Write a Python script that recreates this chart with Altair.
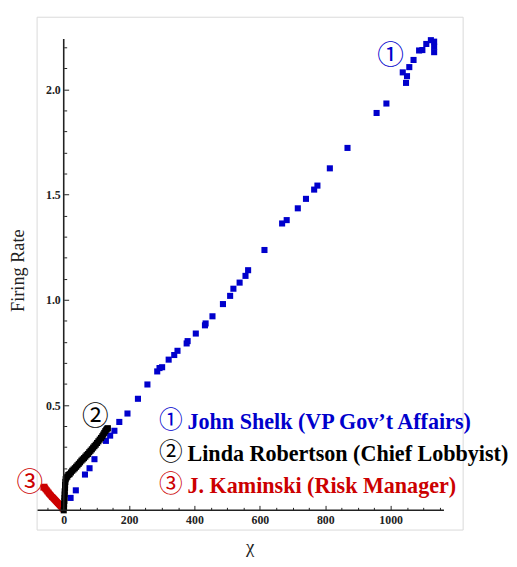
import altair as alt
import pandas as pd

# ---------------- data ----------------
blue_x = [21, 37, 65, 79, 94, 129, 142, 155, 170, 195, 227, 256, 286, 293, 301, 321,
          338, 348, 376, 379, 404, 432, 434, 455, 487, 509, 519, 538, 556, 564, 614,
          668, 682, 716, 741, 766, 776, 814, 868, 957, 987, 1037, 1050, 1047, 1057,
          1070, 1087, 1097, 1109, 1123, 1133, 1133, 1133]
blue_y = [0.059, 0.095, 0.170, 0.200, 0.243, 0.330, 0.355, 0.378, 0.420, 0.460, 0.530,
          0.598, 0.660, 0.676, 0.680, 0.716, 0.738, 0.758, 0.793, 0.804, 0.840, 0.879,
          0.888, 0.922, 0.980, 1.019, 1.053, 1.082, 1.114, 1.141, 1.237, 1.363, 1.379,
          1.435, 1.480, 1.524, 1.543, 1.625, 1.722, 1.888, 1.933, 2.081, 2.063, 2.031,
          2.106, 2.140, 2.185, 2.187, 2.216, 2.234, 2.227, 2.203, 2.177]

black_x = [0, 1, 1, 2, 2, 3, 3, 4, 4, 5, 6, 8, 11, 14, 18, 22, 26, 30, 34, 38, 42, 46,
           50, 54, 58, 62, 66, 70, 74, 78, 82, 86, 90, 94, 98, 102, 106, 110, 114, 118,
           121, 124, 127, 130, 133, 135]
black_y = [0.000, 0.015, 0.030, 0.045, 0.060, 0.075, 0.090, 0.105, 0.120, 0.135, 0.148,
           0.155, 0.160, 0.168, 0.172, 0.180, 0.188, 0.194, 0.200, 0.207, 0.214, 0.221,
           0.228, 0.236, 0.242, 0.248, 0.255, 0.262, 0.268, 0.276, 0.283, 0.290, 0.298,
           0.305, 0.312, 0.320, 0.328, 0.336, 0.344, 0.352, 0.360, 0.368, 0.376, 0.383,
           0.388, 0.390]

red_x = [-62, -59, -57, -55, -52, -50, -47, -45, -42, -39, -36, -33, -30, -27, -24,
         -21, -18, -15, -12, -9, -6, -3]
red_y = [0.108, 0.112, 0.105, 0.100, 0.095, 0.090, 0.085, 0.080, 0.075, 0.070, 0.064,
         0.060, 0.055, 0.050, 0.045, 0.040, 0.035, 0.030, 0.025, 0.020, 0.014, 0.008]

x_tick_values = [-50, 0, 50, 100, 150, 200, 250, 300, 350, 400, 450, 500, 550, 600,
                 650, 700, 750, 800, 850, 900, 950, 1000, 1050, 1100, 1150]
x_label_values = [0, 200, 400, 600, 800, 1000]
y_tick_values = [0.1, 0.2, 0.3, 0.4, 0.5, 0.6, 0.7, 0.8, 0.9, 1.0, 1.1, 1.2, 1.3, 1.4,
                 1.5, 1.6, 1.7, 1.8, 1.9, 2.0, 2.1, 2.2]
y_label_values = [0.5, 1.0, 1.5, 2.0]

axis_x_extent = [-80, 1163]
axis_y_extent = [0, 2.24]

circled = ["①", "②", "③"]
legend_names = ["John Shelk (VP Gov’t Affairs)",
                "Linda Robertson (Chief Lobbyist)",
                "J. Kaminski (Risk Manager)"]
series_colors = ["#0000CC", "#000000", "#CC0000"]

# ---------------- annotation placement (data coordinates) ----------------
legend_pos_x = [378.6, 378.6, 378.6]
legend_pos_y = [0.387, 0.234, 0.084]
legend_mark_x = [327.3, 327.3, 327.3]
legend_mark_y = [0.423, 0.270, 0.120]
tag_x = [1000, 97, -104]
tag_y = [2.160, 0.442, 0.130]

# ---------------- scales ----------------
xs = alt.Scale(domain=[-82.96, 1220.2], nice=False, zero=False)
ys = alt.Scale(domain=[-0.0914, 2.3454], nice=False, zero=False)

SERIF = "Liberation Serif"
INK = "#222222"

x_label_axis = alt.Axis(
    orient="bottom", offset=-19.5, values=x_label_values, format="d", domain=False,
    ticks=False, tickSize=0, grid=False, labelFont=SERIF, labelFontSize=12,
    labelFontWeight="bold", labelColor=INK, labelPadding=4, labelOverlap=False,
    labelFlush=False, title="χ", titleFont=SERIF, titleFontSize=19,
    titleFontWeight="normal", titleColor=INK, titleX=216, titleY=43,
    titleAlign="center", titleBaseline="alphabetic", titleAngle=0)
y_label_axis = alt.Axis(
    orient="left", offset=-27.5, values=y_label_values, format=".1f", domain=False,
    ticks=False, tickSize=0, grid=False, labelFont=SERIF, labelFontSize=12,
    labelFontWeight="bold", labelColor=INK, labelPadding=3.5, labelOverlap=False,
    labelFlush=False, title="Firing Rate", titleFont=SERIF, titleFontSize=18.5,
    titleFontWeight="normal", titleColor=INK, titleX=-47, titleY=257,
    titleAlign="center", titleBaseline="middle", titleAngle=270)
x_tick_axis = alt.Axis(
    orient="top", offset=-500.5, values=x_tick_values, domain=False, labels=False,
    grid=False, tickColor=INK, tickWidth=1,
    tickSize={"condition": {"test": "indexof([0,200,400,600,800,1000], datum.value) >= 0",
                            "value": 5}, "value": 3},
    title=None)
y_tick_axis = alt.Axis(
    orient="right", offset=-404.5, values=y_tick_values, domain=False, labels=False,
    grid=False, tickColor=INK, tickWidth=1,
    tickSize={"condition": {"test": "indexof([0.5,1,1.5,2], datum.value) >= 0",
                            "value": 5}, "value": 3},
    title=None)

blue_df = pd.DataFrame({"x": blue_x, "y": blue_y})
black_df = pd.DataFrame({"x": black_x, "y": black_y})
red_df = pd.DataFrame({"x": red_x, "y": red_y})

blue = alt.Chart(blue_df).mark_square(size=38, opacity=1, color=series_colors[0]).encode(
    x=alt.X("x:Q", scale=xs, axis=x_label_axis),
    y=alt.Y("y:Q", scale=ys, axis=y_label_axis))
red = alt.Chart(red_df).mark_square(size=38, opacity=1, color=series_colors[2]).encode(
    x=alt.X("x:Q", scale=xs, axis=None),
    y=alt.Y("y:Q", scale=ys, axis=None))
black = alt.Chart(black_df).mark_square(size=38, opacity=1, color=series_colors[1]).encode(
    x=alt.X("x:Q", scale=xs, axis=x_tick_axis),
    y=alt.Y("y:Q", scale=ys, axis=y_tick_axis))

xline_df = pd.DataFrame({"x": [axis_x_extent[0]], "x2": [axis_x_extent[1]], "y": [0]})
yline_df = pd.DataFrame({"x": [0], "y": [axis_y_extent[0]], "y2": [axis_y_extent[1]]})
xline = alt.Chart(xline_df).mark_rule(color=INK, strokeWidth=1.6).encode(
    x=alt.X("x:Q", scale=xs, axis=None), x2="x2:Q",
    y=alt.Y("y:Q", scale=ys, axis=None))
yline = alt.Chart(yline_df).mark_rule(color=INK, strokeWidth=1.6).encode(
    x=alt.X("x:Q", scale=xs, axis=None),
    y=alt.Y("y:Q", scale=ys, axis=None), y2="y2:Q")

legend_df = pd.DataFrame({"text": legend_names, "color": series_colors,
                          "x": legend_pos_x, "y": legend_pos_y})
legend_text = alt.Chart(legend_df).mark_text(
    font=SERIF, fontSize=22.4, fontWeight="bold", align="left", baseline="alphabetic").encode(
    x=alt.X("x:Q", scale=xs, axis=None), y=alt.Y("y:Q", scale=ys, axis=None),
    text="text:N", color=alt.Color("color:N", scale=None))

lmark_df = pd.DataFrame({"text": circled, "color": series_colors,
                         "x": legend_mark_x, "y": legend_mark_y})
legend_marks = alt.Chart(lmark_df).mark_text(
    font="Noto Sans CJK JP", fontSize=24, align="center", baseline="middle").encode(
    x=alt.X("x:Q", scale=xs, axis=None), y=alt.Y("y:Q", scale=ys, axis=None),
    text="text:N", color=alt.Color("color:N", scale=None))

tag_df = pd.DataFrame({"text": circled, "color": series_colors, "x": tag_x, "y": tag_y})
tags = alt.Chart(tag_df).mark_text(
    font="Noto Sans CJK JP", fontSize=27, align="center", baseline="middle").encode(
    x=alt.X("x:Q", scale=xs, axis=None), y=alt.Y("y:Q", scale=ys, axis=None),
    text="text:N", color=alt.Color("color:N", scale=None))

chart = alt.layer(blue, red, black, xline, yline, legend_text, legend_marks, tags).properties(
    width=432, height=520,
    autosize=alt.AutoSizeParams(type="none"),
    padding={"left": 29, "top": 5, "right": 47, "bottom": 26},
    background="white",
).configure_view(stroke="#d9d9d9", strokeWidth=1)

chart.save("out.html", embed_options={"renderer": "svg", "actions": False})
